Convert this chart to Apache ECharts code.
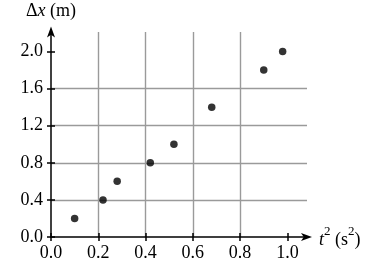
<!DOCTYPE html>
<html>
<head>
<meta charset="utf-8">
<script src="https://cdn.jsdelivr.net/npm/echarts@6/dist/echarts.min.js"></script>
<style>html,body{margin:0;padding:0;background:#fff}#c{width:373px;height:268px}</style>
</head>
<body>
<div id="c"></div>
<script>
// Data
const t2Values = [0.10, 0.22, 0.28, 0.42, 0.52, 0.68, 0.90, 0.98];
const dxValues = [0.2, 0.4, 0.6, 0.8, 1.0, 1.4, 1.8, 2.0];
const xTicks = [0, 0.2, 0.4, 0.6, 0.8, 1.0];
const yTicks = [0, 0.4, 0.8, 1.2, 1.6, 2.0];

const FONT = '"Liberation Serif", "Times New Roman", serif';
const points = t2Values.map((x, i) => [x, dxValues[i]]);
const fmt = v => v.toFixed(1);
const XMAX = 1.083, YMAX = 2.21;
const gridRect = { left: 51, right: 66, top: 32, bottom: 31 };
const gridLine = { show: true, showMinLine: false, showMaxLine: false, lineStyle: { color: '#9a9a9a', width: 1.4 } };
const baseText = { fontFamily: FONT, fontSize: 18, color: '#000' };

const chart = echarts.init(document.getElementById('c'), null, { renderer: 'canvas' });
chart.setOption({
  animation: false,
  backgroundColor: '#fff',
  grid: [Object.assign({}, gridRect), Object.assign({}, gridRect)],
  xAxis: [{
    type: 'value', gridIndex: 0, min: 0, max: XMAX, interval: 0.2,
    name: '{i|t}{s|2}{a| (s}{s|2}{a|)}', nameLocation: 'end', nameGap: 12,
    nameTextStyle: {
      padding: [6, 0, 0, 0], align: 'left', verticalAlign: 'middle',
      rich: {
        i: Object.assign({}, baseText, { fontStyle: 'italic', lineHeight: 29 }),
        a: Object.assign({}, baseText, { lineHeight: 29 }),
        s: Object.assign({}, baseText, { fontSize: 13, lineHeight: 15, verticalAlign: 'top' })
      }
    },
    axisLine: { show: true, onZero: false, symbol: ['none', 'arrow'], symbolSize: [6, 11], symbolOffset: [0, 5], lineStyle: { color: '#000', width: 1.5 } },
    axisTick: { show: true, inside: false, length: 4, customValues: xTicks, lineStyle: { color: '#000', width: 1.5 } },
    axisLabel: { show: true, customValues: xTicks, formatter: fmt, margin: 7, fontFamily: FONT, fontSize: 18, color: '#000' },
    splitLine: gridLine
  }, {
    type: 'value', gridIndex: 1, min: 0, max: XMAX, interval: 0.2,
    axisLine: { show: false, onZero: false },
    axisTick: { show: true, inside: true, length: 4, customValues: xTicks, lineStyle: { color: '#000', width: 1.5 } },
    axisLabel: { show: false },
    splitLine: { show: false }
  }],
  yAxis: [{
    type: 'value', gridIndex: 0, min: 0, max: YMAX, interval: 0.4,
    name: '{a|Δ}{i|x}{a| (m)}', nameLocation: 'end', nameGap: 12,
    nameTextStyle: {
      rich: {
        i: Object.assign({}, baseText, { fontStyle: 'italic' }),
        a: Object.assign({}, baseText)
      }
    },
    axisLine: { show: true, onZero: false, symbol: ['none', 'arrow'], symbolSize: [6, 11], symbolOffset: [0, 5.5], lineStyle: { color: '#000', width: 1.5 } },
    axisTick: { show: true, inside: false, length: 4, customValues: yTicks, lineStyle: { color: '#000', width: 1.5 } },
    axisLabel: { show: true, customValues: yTicks, formatter: fmt, margin: 8, fontFamily: FONT, fontSize: 18, color: '#000' },
    splitLine: gridLine
  }, {
    type: 'value', gridIndex: 1, min: 0, max: YMAX, interval: 0.4,
    axisLine: { show: false, onZero: false },
    axisTick: { show: true, inside: true, length: 4, customValues: yTicks, lineStyle: { color: '#000', width: 1.5 } },
    axisLabel: { show: false },
    splitLine: { show: false }
  }],
  series: [{
    type: 'scatter', xAxisIndex: 0, yAxisIndex: 0,
    data: points, symbol: 'circle', symbolSize: 7.5,
    itemStyle: { color: '#000' }, z: 5
  }]
});
</script>
</body>
</html>
